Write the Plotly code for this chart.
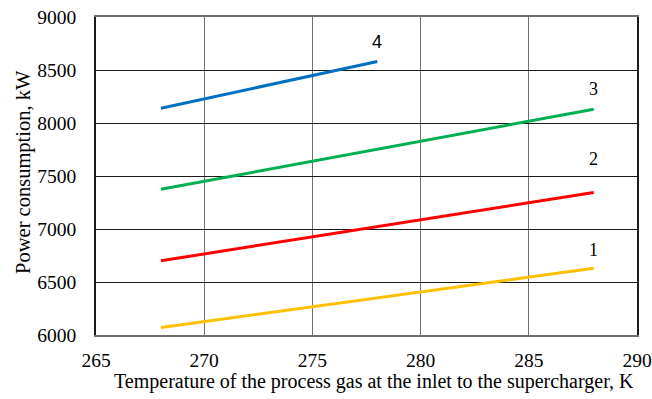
import plotly.graph_objects as go

x_start = [268, 268, 268, 268]
x_end = [288, 288, 288, 278]
series_names = ["1", "2", "3", "4"]
y_start = [6070, 6700, 7375, 8140]
y_end = [6630, 7345, 8130, 8580]
colors = ["#FFC000", "#FF0000", "#00B050", "#0070C0"]
label_x = [288, 288, 288, 278]
label_y = [6800, 7660, 8320, 8760]
label_fonts = ["Liberation Serif", "Liberation Serif", "Liberation Serif", "Liberation Sans"]

x_ticks = [265, 270, 275, 280, 285, 290]
y_ticks = [6000, 6500, 7000, 7500, 8000, 8500, 9000]
x_title = "Temperature of the process gas at the inlet to the supercharger, K"
y_title = "Power consumption, kW"

SERIF = "Liberation Serif, Times New Roman, serif"

fig = go.Figure()
for i in range(4):
    fig.add_trace(go.Scatter(
        x=[x_start[i], x_end[i]], y=[y_start[i], y_end[i]],
        mode="lines", line=dict(color=colors[i], width=3),
        name=series_names[i], showlegend=False, hoverinfo="skip"))
    fig.add_annotation(x=label_x[i], y=label_y[i], text=series_names[i],
                       showarrow=False, xanchor="center", yanchor="middle",
                       font=dict(family=label_fonts[i], size=18, color="#000"))

fig.add_annotation(xref="paper", yref="paper", x=0.514, y=-0.145,
                   text=x_title, showarrow=False, xanchor="center", yanchor="middle",
                   font=dict(family=SERIF, size=20, color="#000"))
fig.add_annotation(xref="paper", yref="paper", x=-0.133, y=0.513,
                   text=y_title, showarrow=False, xanchor="center", yanchor="middle",
                   textangle=-90, font=dict(family=SERIF, size=20.5, color="#000"))

tick_font = dict(family=SERIF, size=19.5, color="#000")
fig.update_layout(
    width=652, height=399,
    margin=dict(l=96, r=15, t=17, b=64),
    plot_bgcolor="white", paper_bgcolor="white",
    font=dict(family=SERIF, size=19.5, color="#000"),
    xaxis=dict(range=[265, 290], tickvals=x_ticks, showgrid=True,
               gridcolor="#6f6f6f", gridwidth=1.3, showline=True,
               linecolor="#6f6f6f", linewidth=1.5, mirror=True,
               zeroline=False, ticks="", ticklabelstandoff=7,
               automargin=False, tickfont=tick_font),
    yaxis=dict(range=[6000, 9000], tickvals=y_ticks, showgrid=True,
               gridcolor="#1a1a1a", gridwidth=1, showline=True,
               linecolor="#1a1a1a", linewidth=1.5, mirror=True,
               zeroline=False, ticks="", ticklabelstandoff=14,
               automargin=False, tickfont=tick_font),
)
fig.write_html("out.html")
